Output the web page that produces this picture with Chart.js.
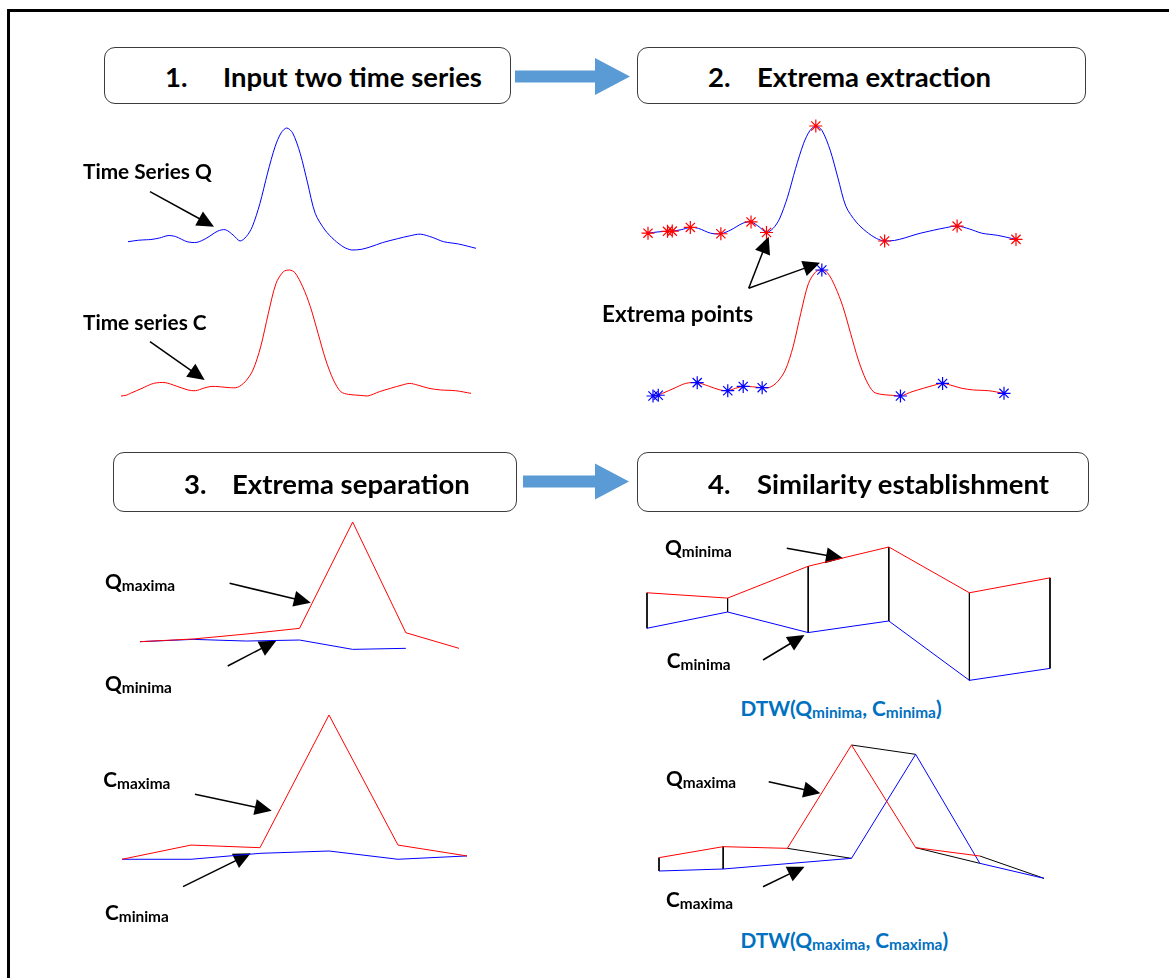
<!DOCTYPE html>
<html>
<head>
<meta charset="utf-8">
<script src="https://cdn.jsdelivr.net/npm/chart.js@4/dist/chart.umd.min.js"></script>
<style>
  html, body { margin: 0; padding: 0; background: #fff; }
  #page { position: relative; width: 1169px; height: 978px; overflow: hidden;
          font-family: Lato, "Open Sans", sans-serif; color: #000; }
  .frame-top  { position: absolute; left: 7px; top: 9px; right: 0; height: 3px; background: #000; }
  .frame-left { position: absolute; left: 7px; top: 9px; bottom: 0; width: 3px; background: #000; }
  .box { position: absolute; border: 1.5px solid #3c3c3c; border-radius: 11px; box-sizing: border-box; }
  .txt { position: absolute; font-weight: 700; white-space: nowrap; line-height: 1; }
  .txt .sub { font-size: 0.74em; position: relative; top: 0.14em; }
  .blue { color: #0070C0; }
  .plot { position: absolute; }
  #overlay { position: absolute; left: 0; top: 0; }
</style>
</head>
<body>
<div id="page">
  <div class="frame-top"></div>
  <div class="frame-left"></div>
  <svg id="overlay" width="1169" height="978"></svg>
</div>
<script>
// ---- Raw time series: sample time (0-100) and normalised amplitude ----
const qTime  = [0, 3, 5.3, 6.6, 9, 11.5, 13.7, 17, 19.8, 22.5, 25.8, 28, 30.2, 32.2, 34,
                35.7, 37.9, 40.1, 42.3, 44, 45.6, 47.3, 49.5, 51.6, 53.8, 56.6, 59.3, 62.1,
                64.3, 67, 69.8, 73.1, 77.5, 80.8, 84, 87.4, 90.7, 95, 100];
const qValue = [0.068, 0.08, 0.084, 0.086, 0.098, 0.118, 0.11, 0.068, 0.063, 0.096, 0.155,
                0.166, 0.123, 0.074, 0.11, 0.19, 0.38, 0.63, 0.85, 0.96, 1.0, 0.96, 0.79,
                0.55, 0.30, 0.164, 0.082, 0.022, 0.0, 0.005, 0.027, 0.06, 0.093, 0.115,
                0.13, 0.104, 0.068, 0.049, 0.014];
const cTime  = [0, 1.5, 2.7, 6, 9.3, 12.6, 15.8, 19.1, 21.3, 23.5, 25.7, 28.4, 31.1, 33.3,
                35.5, 37.7, 39.9, 42.1, 44.3, 46.4, 48.1, 49.7, 51.9, 54.1, 56.3, 58.5, 60.7,
                62.8, 65, 68.3, 70.5, 73.8, 77, 80.3, 82.5, 84.7, 88, 91.3, 95.6, 100];
const cValue = [0, 0.006, 0.021, 0.061, 0.10, 0.106, 0.079, 0.048, 0.042, 0.061, 0.076,
                0.073, 0.066, 0.069, 0.114, 0.206, 0.39, 0.656, 0.894, 0.987, 1.0, 0.979,
                0.868, 0.709, 0.497, 0.286, 0.127, 0.034, 0.013, 0.005, 0.0, 0.034, 0.061,
                0.087, 0.10, 0.087, 0.061, 0.048, 0.042, 0.021];

// ---- Extracted extrema (sample times) ----
const qExtremaTime = [0, 5.3, 6.6, 11.5, 19.8, 28, 32.2, 45.6, 64.3, 84, 100];
const cExtremaTime = [0, 1.5, 12.6, 21.3, 25.7, 31.1, 48.1, 70.5, 82.5, 100];

// ---- Separated extrema sequences ----
const qMaxima = [0.065, 0.086, 0.125, 0.169, 1.0, 0.135, 0.013];
const qMinima = [0.065, 0.083, 0.07, 0.078, 0.005, 0.013];
const cMaxima = [0.005, 0.103, 0.085, 1.0, 0.103, 0.028];
const cMinima = [0.005, 0.005, 0.046, 0.062, 0.005, 0.028];

// ---- DTW alignment of the minima ----
const dtwQMinima = [2.72, 2.56, 3.52, 4.1, 2.72, 3.17];
const dtwCMinima = [1.65, 2.14, 1.52, 1.87, 0.08, 0.44];
const minimaPath = [[0, 0], [1, 1], [2, 2], [3, 3], [4, 4], [5, 5]];

// ---- DTW alignment of the maxima ----
const dtwQMaximaTime = [0, 1, 2, 3, 4, 5];
const dtwQMaxima     = [0.67, 1.0, 0.95, 4.05, 0.97, 0.72];
const dtwCMaximaTime = [0, 1, 3, 4, 5, 6];
const dtwCMaxima     = [0.27, 0.33, 0.65, 3.77, 0.5, 0.05];
const maximaPath = [[0, 0], [1, 1], [2, 2], [3, 3], [4, 4], [5, 5]];

const RED = '#ff0000', BLUE = '#0000ff', BLACK = '#000000';
const page = document.getElementById('page');

function pts(xs, ys) { return xs.map((x, i) => ({ x, y: ys[i] })); }
function idx(n) { return Array.from({ length: n }, (_, i) => i); }
function pick(xs, ys, keep) { return keep.map(t => ({ x: t, y: ys[xs.indexOf(t)] })); }

function line(data, color, extra) {
  return Object.assign({ data, borderColor: color, borderWidth: 1, pointRadius: 0,
                         tension: 0, fill: false, clip: false }, extra || {});
}
function stars(data, color) {
  return { data, showLine: false, pointStyle: 'star', pointRadius: 6.5, pointBorderWidth: 1.2,
           pointBorderColor: color, pointBackgroundColor: color, borderColor: color, clip: false };
}

// place a chart whose data range [x0,x1]x[y0,y1] fills the pixel box
function plot(box, xr, yr, datasets) {
  const pad = 12;
  const w = box.right - box.left + 2 * pad, h = box.bottom - box.top + 2 * pad;
  const div = document.createElement('div');
  div.className = 'plot';
  div.style.left = (box.left - pad) + 'px';
  div.style.top = (box.top - pad) + 'px';
  div.style.width = w + 'px';
  div.style.height = h + 'px';
  const cv = document.createElement('canvas');
  cv.width = w; cv.height = h;
  div.appendChild(cv);
  page.appendChild(div);
  new Chart(cv, {
    type: 'line',
    data: { datasets },
    options: {
      responsive: false, animation: false, events: [],
      layout: { padding: pad },
      plugins: { legend: { display: false }, tooltip: { enabled: false } },
      scales: {
        x: { type: 'linear', display: false, min: xr[0], max: xr[1] },
        y: { type: 'linear', display: false, min: yr[0], max: yr[1] }
      }
    }
  });
}

// 1. input series
plot({ left: 128, right: 476, top: 128, bottom: 250 }, [0, 100], [0, 1],
     [line(pts(qTime, qValue), BLUE, { tension: 0.3 })]);
plot({ left: 120.5, right: 470.7, top: 270, bottom: 396 }, [0, 100], [0, 1],
     [line(pts(cTime, cValue), RED, { tension: 0.3 })]);

// 2. extrema extraction
plot({ left: 648, right: 1016, top: 126, bottom: 241.7 }, [0, 100], [0, 1],
     [stars(pick(qTime, qValue, qExtremaTime), RED),
      line(pts(qTime, qValue), BLUE, { tension: 0.3 })]);
plot({ left: 653, right: 1004, top: 270, bottom: 396 }, [0, 100], [0, 1],
     [stars(pick(cTime, cValue, cExtremaTime), BLUE),
      line(pts(cTime, cValue), RED, { tension: 0.3 })]);

// 3. extrema separation
plot({ left: 139.7, right: 459.2, top: 521.7, bottom: 650 }, [0, 6], [0, 1],
     [line(pts(idx(qMaxima.length), qMaxima), RED),
      line(pts(idx(qMinima.length), qMinima), BLUE)]);
plot({ left: 121.7, right: 466.9, top: 715, bottom: 860 }, [0, 5], [0, 1],
     [line(pts(idx(cMaxima.length), cMaxima), RED),
      line(pts(idx(cMinima.length), cMinima), BLUE)]);

// 4. similarity establishment (warping links in black)
const minLinks = minimaPath.map(([i, j]) =>
  line([{ x: i, y: dtwQMinima[i] }, { x: j, y: dtwCMinima[j] }], BLACK));
plot({ left: 647.2, right: 1050.9, top: 546.7, bottom: 683.3 }, [0, 5], [0, 4.1],
     [line(pts(idx(dtwQMinima.length), dtwQMinima), RED),
      line(pts(idx(dtwCMinima.length), dtwCMinima), BLUE)].concat(minLinks));

const maxLinks = maximaPath.map(([i, j]) =>
  line([{ x: dtwQMaximaTime[i], y: dtwQMaxima[i] }, { x: dtwCMaximaTime[j], y: dtwCMaxima[j] }], BLACK));
plot({ left: 659.2, right: 1044.9, top: 745, bottom: 880 }, [0, 6], [0, 4.05],
     [line(pts(dtwQMaximaTime, dtwQMaxima), RED),
      line(pts(dtwCMaximaTime, dtwCMaxima), BLUE)].concat(maxLinks));

// ---- step boxes and headings ----
function box(l, t, r, b) {
  const d = document.createElement('div');
  d.className = 'box';
  Object.assign(d.style, { left: l + 'px', top: t + 'px', width: (r - l) + 'px', height: (b - t) + 'px' });
  page.appendChild(d);
}
// text placed by left edge and cap-height centre
function text(html, x, cy, size, cls) {
  const d = document.createElement('div');
  d.className = 'txt' + (cls ? ' ' + cls : '');
  d.innerHTML = html;
  d.style.fontSize = size + 'px';
  d.style.left = x + 'px';
  d.style.top = (cy - 0.527 * size) + 'px';
  page.appendChild(d);
}
box(104, 47, 511, 104);
box(636.5, 47, 1086, 104);
box(113, 452, 517, 512);
box(636.5, 452, 1089, 512);
const H = 27.5;
text('1.', 165, 77, H); text('Input two time series', 223, 77, H);
text('2.', 708, 77, H); text('Extrema extraction', 757, 77, H);
text('3.', 184, 484.5, H); text('Extrema separation', 232, 484.5, H);
text('4.', 708, 484, H); text('Similarity establishment', 757, 484, H);

const L = 20.8;
const sub = (a, b) => a + '<span class="sub">' + b + '</span>';
text('Time Series Q', 83, 172, L);
text('Time series C', 83, 322.5, L);
text('Extrema points', 602, 314.7, 22.5);
text(sub('Q', 'maxima'), 105, 581.7, L);
text(sub('Q', 'minima'), 105, 683.5, L);
text(sub('C', 'maxima'), 103.3, 780, L);
text(sub('C', 'minima'), 105, 913, L);
text(sub('Q', 'minima'), 665, 547.5, L);
text(sub('C', 'minima'), 666.8, 660.5, L);
text('DTW(' + sub('Q', 'minima') + ', ' + sub('C', 'minima') + ')', 740.4, 709, L, 'blue');
text(sub('Q', 'maxima'), 666, 779, L);
text(sub('C', 'maxima'), 666, 900, L);
text('DTW(' + sub('Q', 'maxima') + ', ' + sub('C', 'maxima') + ')', 740.4, 941, L, 'blue');

// ---- arrows ----
const svg = document.getElementById('overlay');
const NS = 'http://www.w3.org/2000/svg';
function el(name, attrs) {
  const e = document.createElementNS(NS, name);
  for (const k in attrs) e.setAttribute(k, attrs[k]);
  svg.appendChild(e);
  return e;
}
// wide process arrows between the steps
function bigArrow(x0, x1, x2, cy, shaftH, headH, color) {
  const s = shaftH / 2, h = headH / 2;
  el('polygon', { fill: color, points:
    `${x0},${cy - s} ${x1},${cy - s} ${x1},${cy - h} ${x2},${cy} ${x1},${cy + h} ${x1},${cy + s} ${x0},${cy + s}` });
}
bigArrow(515, 595, 630, 76.5, 12, 37, '#5b9bd5');
bigArrow(523, 595, 629, 481.5, 12, 36, '#5b9bd5');

// pointer arrows for the labels
function pointer(x1, y1, x2, y2) {
  const len = 17, half = 8;
  const dx = x2 - x1, dy = y2 - y1, d = Math.hypot(dx, dy);
  const ux = dx / d, uy = dy / d;
  const bx = x2 - ux * len, by = y2 - uy * len;
  el('line', { x1, y1, x2: bx + ux, y2: by + uy, stroke: '#000', 'stroke-width': 1.5 });
  el('polygon', { fill: '#000', points:
    `${x2},${y2} ${bx - uy * half},${by + ux * half} ${bx + uy * half},${by - ux * half}` });
}
pointer(150, 191.7, 214, 226.7);
pointer(150, 341.7, 204.7, 380);
pointer(748.7, 288.3, 768.7, 236.7);
pointer(748.7, 288.3, 820, 262.7);
pointer(229.6, 583.3, 310.8, 602.7);
pointer(227.7, 666, 276.3, 640.7);
pointer(195, 794.3, 271.7, 810.7);
pointer(183, 886.7, 250.7, 853.3);
pointer(786.8, 548.3, 843, 558.3);
pointer(763, 660, 804.5, 635);
pointer(768.7, 781.7, 820.4, 793.3);
pointer(763, 886.7, 804.5, 866.7);
</script>
</body>
</html>
